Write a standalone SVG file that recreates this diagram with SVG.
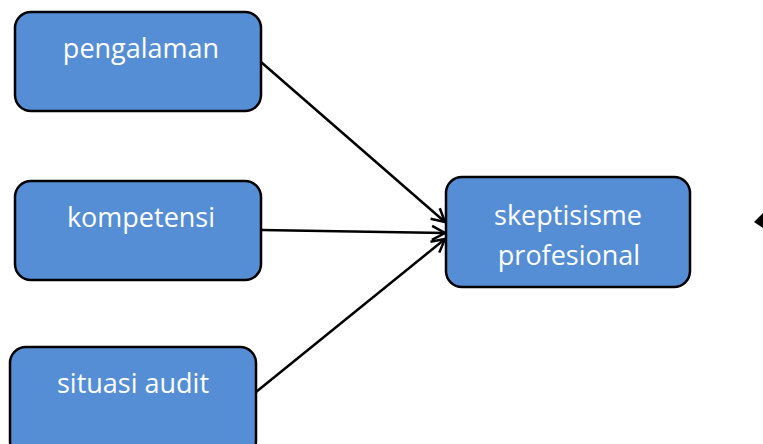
<svg xmlns="http://www.w3.org/2000/svg" width="763" height="444" viewBox="0 0 763 444">
<defs>
<style>
.node rect{fill:#558ED5;stroke:#000;stroke-width:2.5}
.node text{fill:#fff;font-family:"Open Sans","Liberation Sans",sans-serif;font-size:27px;text-anchor:middle}
.conn line{stroke:#000;stroke-width:2.5;fill:none}
</style>
<marker id="arr" markerWidth="18" markerHeight="18" refX="15" refY="9" orient="auto" markerUnits="userSpaceOnUse">
<path d="M2,2 L15,9 L2,16" fill="none" stroke="#000" stroke-width="2.5"/>
</marker>
</defs>
<g class="conn">
<line x1="261" y1="62" x2="445" y2="222" marker-end="url(#arr)"/>
<line x1="261" y1="230" x2="445" y2="233" marker-end="url(#arr)"/>
<line x1="256" y1="392" x2="445" y2="239" marker-end="url(#arr)"/>
</g>
<g id="pengalaman" class="node">
<rect x="15" y="12" width="246" height="99" rx="16"/>
<text x="141" y="58">pengalaman</text>
</g>
<g id="kompetensi" class="node">
<rect x="15" y="181" width="246" height="99" rx="16"/>
<text x="141" y="227">kompetensi</text>
</g>
<g id="situasi" class="node">
<rect x="10" y="347" width="246" height="110" rx="16"/>
<text x="133" y="393">situasi audit</text>
</g>
<g id="skeptisisme" class="node">
<rect x="446" y="177" width="244" height="110" rx="16"/>
<text x="568" y="225">skeptisisme</text>
<text x="569" y="265">profesional</text>
</g>
<polygon points="754,222 763,213 763,228" fill="#000"/>
</svg>
